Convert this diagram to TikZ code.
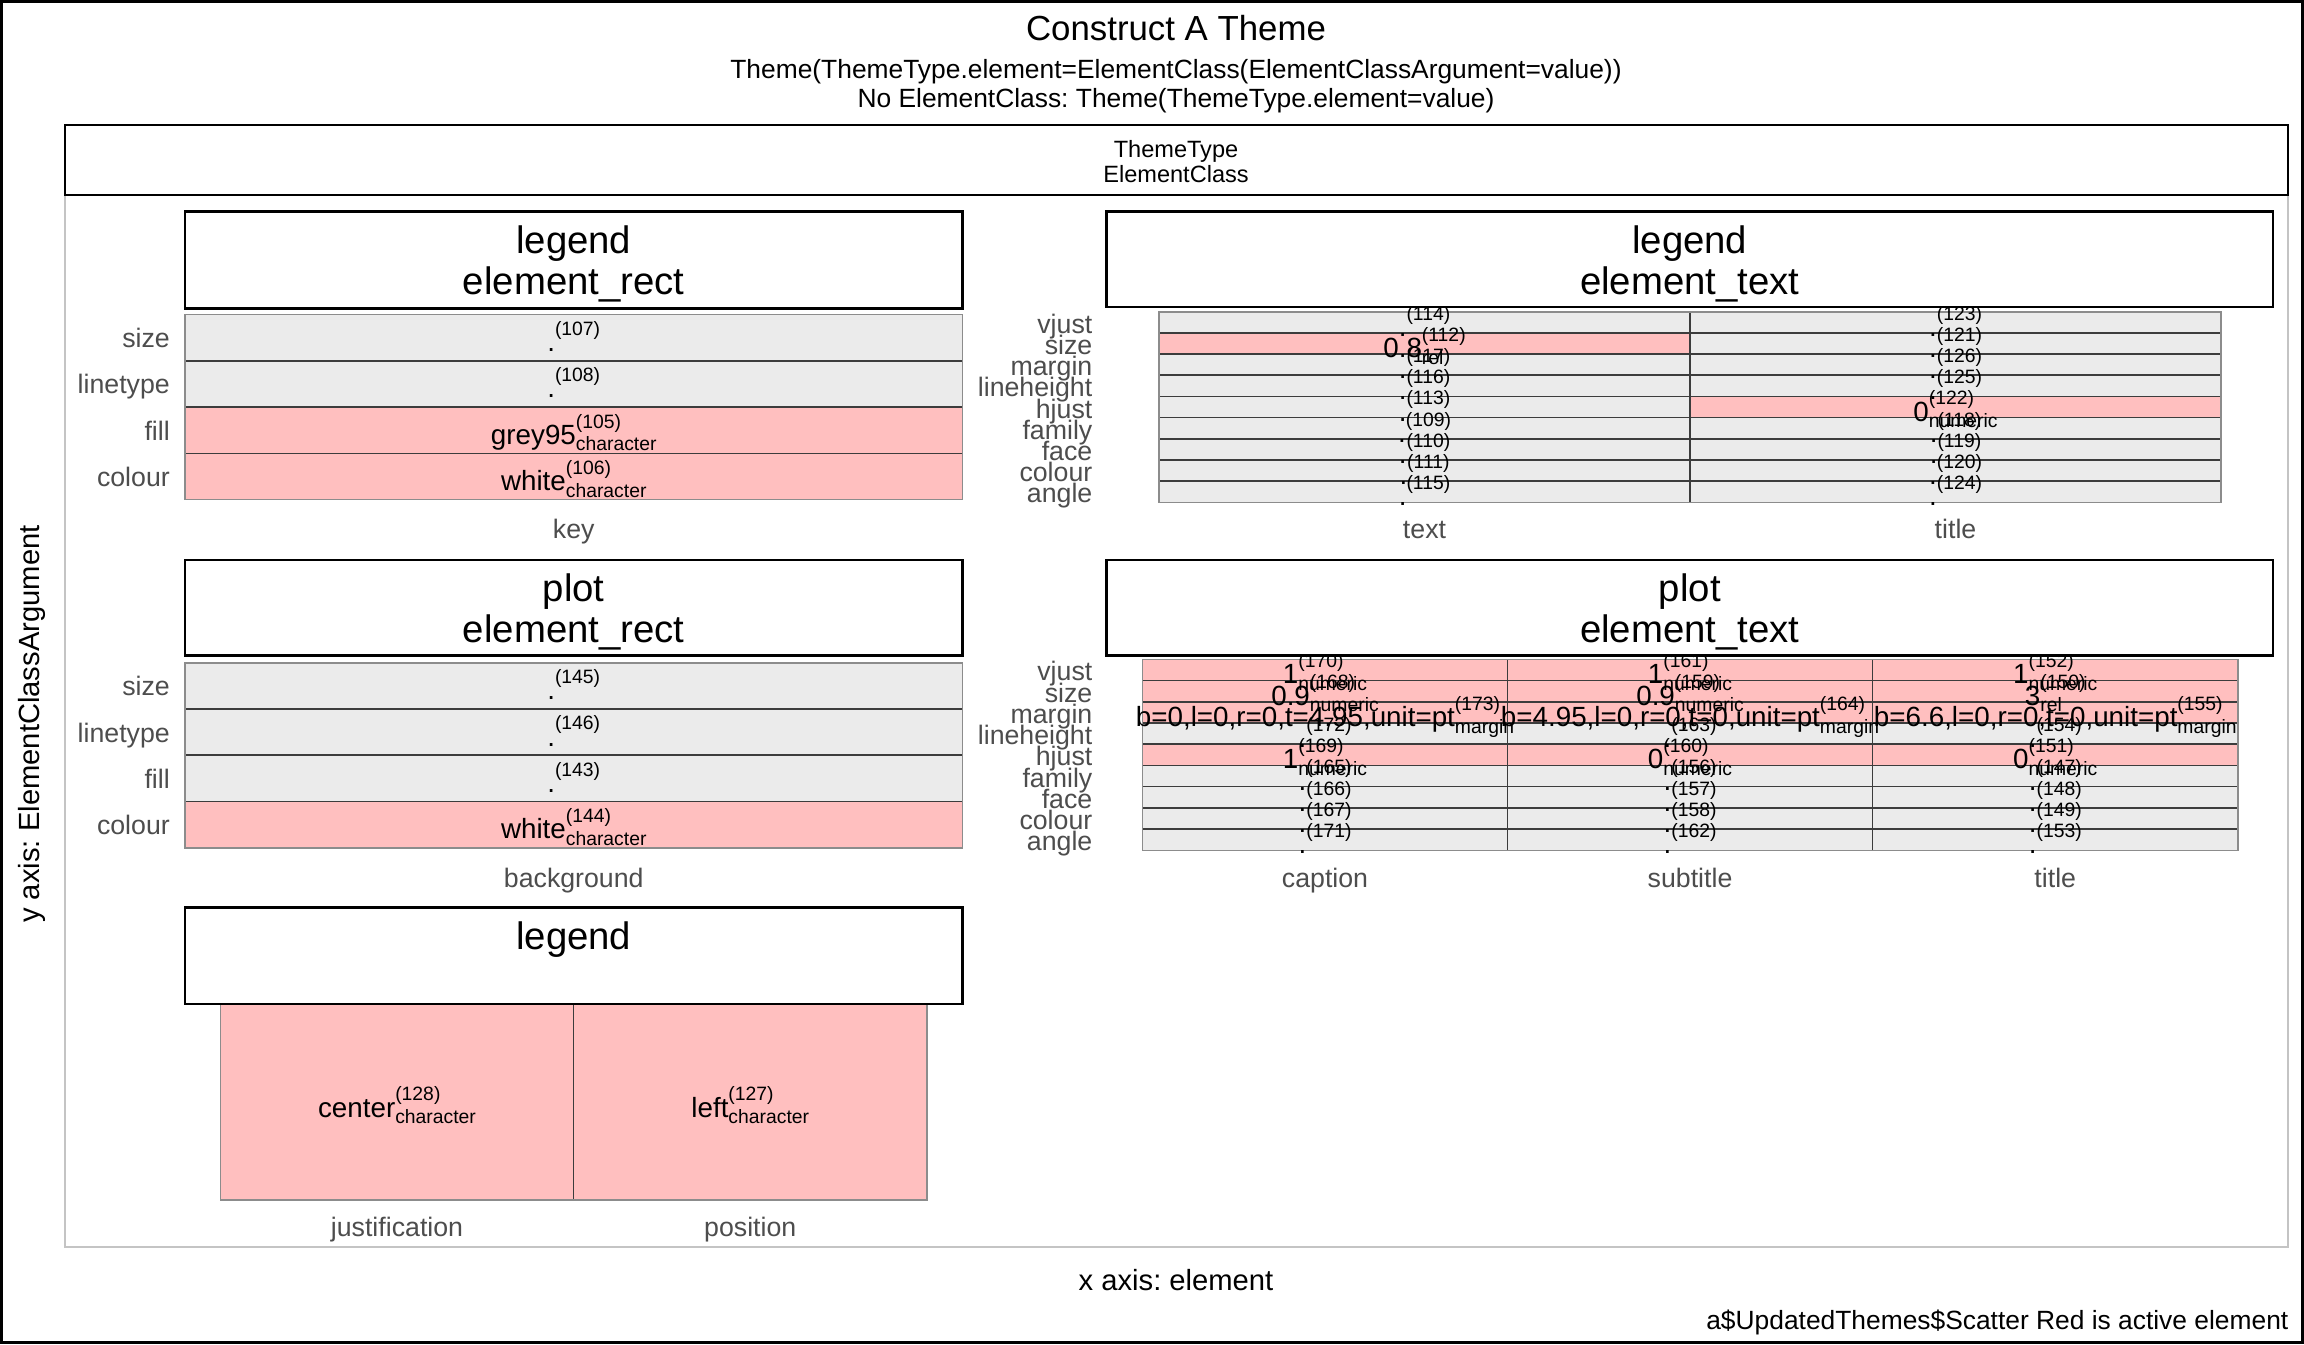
\documentclass[tikz,border=0pt]{standalone}
\usepackage{fontspec}
\setmainfont{Liberation Sans}
\frenchspacing
\definecolor{tilegrey}{HTML}{EBEBEB}
\definecolor{tilepink}{HTML}{FFBFBF}
\definecolor{labgrey}{HTML}{4D4D4D}
\definecolor{sepline}{HTML}{3C3C3C}
\definecolor{edgeline}{HTML}{8C8C8C}
\definecolor{panelline}{HTML}{C4C4C4}
\newlength\cwA
\newlength\cwB
\newcommand\subf{\fontsize{5.5}{6}\selectfont}
\newcommand\cellv[3]{%
  \settowidth\cwA{\subf(#2)}\settowidth\cwB{\subf #3}%
  \ifdim\cwB>\cwA \cwA=\cwB\fi
  #1\makebox[\cwA][l]{\rlap{\raisebox{4.6pt}{\subf(#2)}}\raisebox{-1.9pt}{\subf #3}}}
\newcommand\tilefills[4]{%
  \foreach \i/\tc/\tv/\ts/\tb in #1 {\fill[tile\tc] (#2,{#4+\i*\rh}) rectangle (#3,{#4+(\i+1)*\rh});}}
\newcommand\tilelabels[4]{%
  \foreach \i/\tc/\tv/\ts/\tb in #1 {\node[val] (#4\i) at (#2,{#3+(\i+0.5)*\rh+14}) {\cellv{\tv}{\ts}{\tb}};}}
\newcommand\rowlabels[4]{%
  \foreach \lab [count=\k from 0] in #1 {\node[rowlab] (#4\k) at (#2,{#3+(\k+0.5)*\rh+\lofs}) {\lab};}}
\def\PoneRows{0/G/./107/{},1/G/./108/{},2/P/grey95/105/character,3/P/white/106/character}
\def\PtwoRows{0/G/./145/{},1/G/./146/{},2/G/./143/{},3/P/white/144/character}
\def\PfourA{0/G/./114/{},1/P/0.8/112/rel,2/G/./117/{},3/G/./116/{},4/G/./113/{},5/G/./109/{},6/G/./110/{},7/G/./111/{},8/G/./115/{}}
\def\PfourB{0/G/./123/{},1/G/./121/{},2/G/./126/{},3/G/./125/{},4/P/0/122/numeric,5/G/./118/{},6/G/./119/{},7/G/./120/{},8/G/./124/{}}
\def\PfiveA{0/P/1/170/numeric,1/P/0.9/168/numeric,2/P/{b=0,l=0,r=0,t=4.95,unit=pt}/173/margin,3/G/./172/{},4/P/1/169/numeric,5/G/./165/{},6/G/./166/{},7/G/./167/{},8/G/./171/{}}
\def\PfiveB{0/P/1/161/numeric,1/P/0.9/159/numeric,2/P/{b=4.95,l=0,r=0,t=0,unit=pt}/164/margin,3/G/./163/{},4/P/0/160/numeric,5/G/./156/{},6/G/./157/{},7/G/./158/{},8/G/./162/{}}
\def\PfiveC{0/P/1/152/numeric,1/P/3/150/rel,2/P/{b=6.6,l=0,r=0,t=0,unit=pt}/155/margin,3/G/./154/{},4/P/0/151/numeric,5/G/./147/{},6/G/./148/{},7/G/./149/{},8/G/./153/{}}
\begin{document}
\begin{tikzpicture}[x=0.01cm,y=-0.01cm,
  val/.style={anchor=base,inner sep=0pt,font=\fontsize{7.9}{9}\selectfont},
  rowlab/.style={anchor=base east,inner sep=0pt,text=labgrey,font=\fontsize{7.6}{9}\selectfont},
  collab/.style={anchor=base,inner sep=0pt,text=labgrey,font=\fontsize{7.6}{9}\selectfont},
  striptxt/.style={anchor=base,inner sep=0pt,font=\fontsize{10.9}{13}\selectfont},
  stripbox/.style={draw=black,fill=white,line width=0.7pt},
  tileG/.style={fill=tilegrey},
  tileP/.style={fill=tilepink},
  sep/.style={draw=sepline,line width=0.45pt},
  tileedge/.style={draw=edgeline,line width=0.45pt},
  plain/.style={anchor=base,inner sep=0pt}]
\useasboundingbox (0,0) rectangle (2304,1344);
\fill[white] (0,0) rectangle (2304,1344);
\draw[black,line width=0.6pt] (1.5,1.5) rectangle (2302.5,1342.5);
% titles
\node[plain,font=\fontsize{9.9}{12}\selectfont] (title) at (1176,40) {Construct A Theme};
\node[plain,font=\fontsize{7.5}{9}\selectfont] (sub1) at (1176,78) {Theme(ThemeType.element=ElementClass(ElementClassArgument=value))};
\node[plain,font=\fontsize{7.5}{9}\selectfont] (sub2) at (1176,107) {No ElementClass: Theme(ThemeType.element=value)};
% panel frame and top strip
\draw[panelline,line width=0.35pt] (65,195) rectangle (2288,1247);
\draw[stripbox] (65,125) rectangle (2288,195);
\node[plain,font=\fontsize{6.7}{8}\selectfont] (tt1) at (1176,157) {ThemeType};
\node[plain,font=\fontsize{6.7}{8}\selectfont] (tt2) at (1176,182) {ElementClass};
% ---------- panel 1: legend / element_rect ----------
\def\rh{46.275}
\tilefills{\PoneRows}{185}{962.5}{314.5}
\foreach \k in {1,2,3} \draw[sep] (185,{314.5+\k*\rh}) -- (962.5,{314.5+\k*\rh});
\draw[tileedge] (185,314.5) rectangle (962.5,{314.5+4*\rh});
\tilelabels{\PoneRows}{573.75}{314.5}{pone}
\def\lofs{10}
\rowlabels{{size,linetype,fill,colour}}{170.5}{314.5}{ponel}
\draw[stripbox] (185,211.6) rectangle (962.5,308.6);
\node[striptxt] (s1a) at (573.75,253.6) {legend};
\node[striptxt] (s1b) at (573.75,294.6) {element\_rect};
\node[collab] (c1) at (573.75,538) {key};
% ---------- panel 2: plot / element_rect ----------
\tilefills{\PtwoRows}{185}{962.5}{662.7}
\foreach \k in {1,2,3} \draw[sep] (185,{662.7+\k*\rh}) -- (962.5,{662.7+\k*\rh});
\draw[tileedge] (185,662.7) rectangle (962.5,{662.7+4*\rh});
\tilelabels{\PtwoRows}{573.75}{662.7}{ptwo}
\rowlabels{{size,linetype,fill,colour}}{170.5}{662.7}{ptwol}
\draw[stripbox] (185,559.8) rectangle (962.5,655.4);
\node[striptxt] (s2a) at (573.75,601.8) {plot};
\node[striptxt] (s2b) at (573.75,642.8) {element\_rect};
\node[collab] (c2) at (573.75,887) {background};
% ---------- panel 3: legend ----------
\fill[tileP] (220.4,1004) rectangle (573.5,1200);
\fill[tileP] (573.5,1004) rectangle (927,1200);
\draw[sep] (573.5,1004) -- (573.5,1200);
\draw[tileedge] (220.4,1004) rectangle (927,1200);
\node[val] (pthree0) at (397,1117) {\cellv{center}{128}{character}};
\node[val] (pthree1) at (750.25,1117) {\cellv{left}{127}{character}};
\draw[stripbox] (185,907.3) rectangle (962.5,1004);
\node[striptxt] (s3a) at (573.75,949.3) {legend};
\node[collab] (c3a) at (397,1236) {justification};
\node[collab] (c3b) at (750.25,1236) {position};
% ---------- panel 4: legend / element_text ----------
\def\rh{21.18}
\tilefills{\PfourA}{1159}{1690}{311.7}
\tilefills{\PfourB}{1690}{2221}{311.7}
\foreach \k in {1,...,8} \draw[sep] (1159,{311.7+\k*\rh}) -- (2221,{311.7+\k*\rh});
\draw[sep] (1690,311.7) -- (1690,{311.7+9*\rh});
\draw[tileedge] (1159,311.7) rectangle (2221,{311.7+9*\rh});
\tilelabels{\PfourA}{1424.5}{311.7}{pfa}
\tilelabels{\PfourB}{1955.5}{311.7}{pfb}
\def\lofs{11}
\rowlabels{{vjust,size,margin,lineheight,hjust,family,face,colour,angle}}{1093}{311.7}{pfl}
\draw[stripbox] (1106.5,211.6) rectangle (2273,307);
\node[striptxt] (s4a) at (1689.75,253.6) {legend};
\node[striptxt] (s4b) at (1689.75,294.6) {element\_text};
\node[collab] (c4a) at (1424.5,538) {text};
\node[collab] (c4b) at (1955.5,538) {title};
% ---------- panel 5: plot / element_text ----------
\def\rh{21.222}
\tilefills{\PfiveA}{1142.5}{1507.5}{659.3}
\tilefills{\PfiveB}{1507.5}{1872.5}{659.3}
\tilefills{\PfiveC}{1872.5}{2238}{659.3}
\foreach \k in {1,...,8} \draw[sep] (1142.5,{659.3+\k*\rh}) -- (2238,{659.3+\k*\rh});
\draw[sep] (1507.5,659.3) -- (1507.5,{659.3+9*\rh});
\draw[sep] (1872.5,659.3) -- (1872.5,{659.3+9*\rh});
\draw[tileedge] (1142.5,659.3) rectangle (2238,{659.3+9*\rh});
\tilelabels{\PfiveA}{1325}{659.3}{pva}
\tilelabels{\PfiveB}{1690}{659.3}{pvb}
\tilelabels{\PfiveC}{2055.25}{659.3}{pvc}
\rowlabels{{vjust,size,margin,lineheight,hjust,family,face,colour,angle}}{1093}{659.3}{pvl}
\draw[stripbox] (1106.5,559.8) rectangle (2273,655.4);
\node[striptxt] (s5a) at (1689.75,601.8) {plot};
\node[striptxt] (s5b) at (1689.75,642.8) {element\_text};
\node[collab] (c5a) at (1325,887) {caption};
\node[collab] (c5b) at (1690,887) {subtitle};
\node[collab] (c5c) at (2055.25,887) {title};
% axis titles and caption
\node[plain,font=\fontsize{8.3}{10}\selectfont] (xtitle) at (1176,1290) {x axis: element};
\node[plain,rotate=90,font=\fontsize{8.3}{10}\selectfont] (ytitle) at (39,724) {y axis: ElementClassArgument};
\node[anchor=base east,inner sep=0pt,font=\fontsize{7.5}{9}\selectfont] (capt) at (2289,1329) {a\$UpdatedThemes\$Scatter Red is active element};
\end{tikzpicture}
\end{document}
